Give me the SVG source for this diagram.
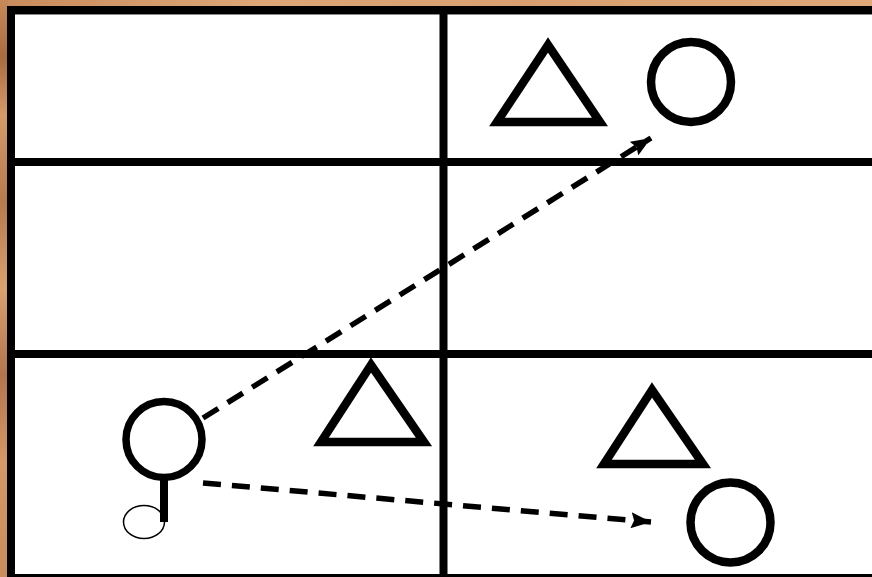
<svg xmlns="http://www.w3.org/2000/svg" width="872" height="577" viewBox="0 0 872 577">
<defs>
<linearGradient id="woodTop" x1="0" y1="0" x2="1" y2="0">
<stop offset="0" stop-color="#c98b5c"/>
<stop offset="0.3" stop-color="#dca677"/>
<stop offset="0.6" stop-color="#d99f70"/>
<stop offset="1" stop-color="#dfa878"/>
</linearGradient>
<linearGradient id="woodLeft" x1="0" y1="0" x2="0" y2="1">
<stop offset="0" stop-color="#c88a5a"/>
<stop offset="0.1" stop-color="#a86c42"/>
<stop offset="0.2" stop-color="#d59a6a"/>
<stop offset="0.35" stop-color="#b57a4e"/>
<stop offset="0.5" stop-color="#d9a070"/>
<stop offset="0.65" stop-color="#b27550"/>
<stop offset="0.8" stop-color="#d49966"/>
<stop offset="1" stop-color="#c98c5c"/>
</linearGradient>
<marker id="arrow" markerUnits="userSpaceOnUse" viewBox="0 0 20 16" markerWidth="20" markerHeight="16" refX="20" refY="8" orient="auto">
<path d="M0,0 L20,8 L0,16 L3,8 Z" fill="#000"/>
</marker>
</defs>
<style>
.grid{stroke:#000;stroke-width:8;fill:none}
.shape{stroke:#000;stroke-width:8.5;fill:none;stroke-linejoin:miter}
.conn{stroke:#000;stroke-width:5.5;fill:none;stroke-dasharray:18 11}
</style>
<rect x="0" y="0" width="872" height="577" fill="url(#woodTop)"/>
<rect x="0" y="0" width="8" height="577" fill="url(#woodLeft)"/>
<rect x="7" y="6" width="865" height="571" fill="#000"/>
<rect x="15" y="14" width="857" height="560" fill="#fff"/>
<line x1="15" y1="14.5" x2="872" y2="14.5" stroke="#888" stroke-width="1"/>
<g id="grid">
<line class="grid" x1="443.5" y1="14" x2="443.5" y2="574"/>
<line class="grid" x1="15" y1="162" x2="872" y2="162"/>
<line class="grid" x1="15" y1="354" x2="872" y2="354"/>
</g>
<g id="triangle-top">
<polygon class="shape" points="548,45 497,122 600,122"/>
</g>
<g id="circle-top">
<circle class="shape" cx="691" cy="82" r="40"/>
</g>
<g id="triangle-mid">
<polygon class="shape" points="371,365 321,442 424,442"/>
</g>
<g id="triangle-right">
<polygon class="shape" points="652,390 604,464 703,464"/>
</g>
<g id="circle-right">
<circle class="shape" cx="730.5" cy="522.5" r="40"/>
</g>
<g id="player">
<ellipse cx="144" cy="522" rx="20.5" ry="16.5" fill="#fff" stroke="#000" stroke-width="1.5"/>
<circle cx="164" cy="439.5" r="38" stroke="#000" stroke-width="7.5" fill="none"/>
<line x1="164" y1="477" x2="164" y2="522" stroke="#000" stroke-width="8"/>
</g>
<g id="connectors">
<line class="conn" x1="203" y1="418" x2="651" y2="138" marker-end="url(#arrow)"/>
<line class="conn" x1="203" y1="483" x2="651" y2="522" marker-end="url(#arrow)"/>
</g>
</svg>
